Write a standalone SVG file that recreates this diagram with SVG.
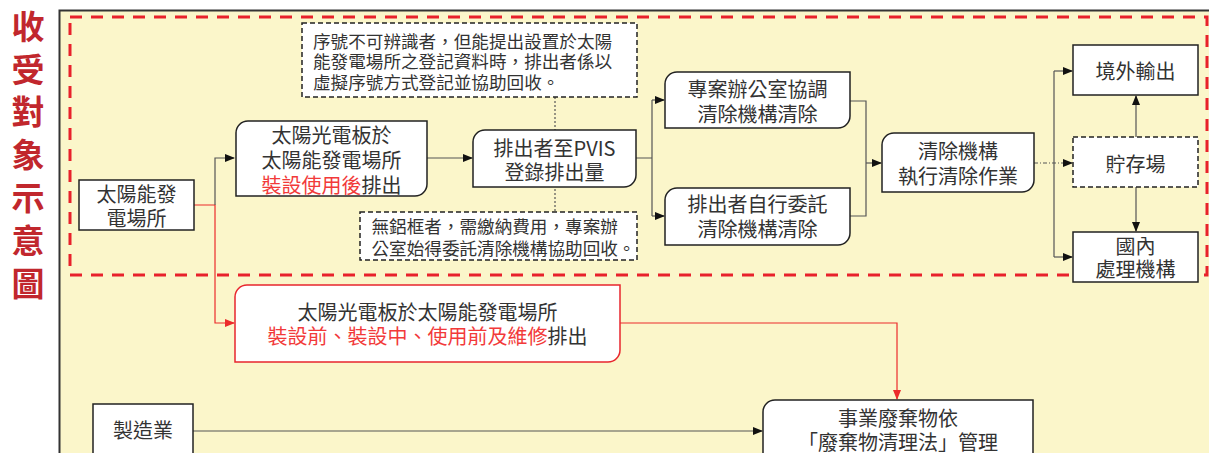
<svg xmlns="http://www.w3.org/2000/svg" width="1209" height="453" viewBox="0 0 1209 453">
<style>
.t{font-family:"Noto Sans CJK TC","Noto Sans CJK SC",sans-serif;font-size:20px;fill:#333;text-anchor:middle;dominant-baseline:central}
.n{font-family:"Noto Sans CJK TC","Noto Sans CJK SC",sans-serif;font-size:17.6px;fill:#333;dominant-baseline:central}
.title{font-family:"Noto Sans CJK TC","Noto Sans CJK SC",sans-serif;font-size:33px;font-weight:bold;fill:#c1272d;text-anchor:middle;dominant-baseline:central}
.r{fill:#f23a3a}
.box{fill:#fff;stroke:#222;stroke-width:1.5}
.dbox{fill:#fff;stroke:#222;stroke-width:1.5;stroke-dasharray:5 3}
.redbox{fill:#fff;stroke:#e8262e;stroke-width:1.5}
.ln{fill:none;stroke:#555;stroke-width:1.2}
.rl{fill:none;stroke:#ec2b2b;stroke-width:1.2}
</style>
<defs>
<marker id="ab" markerWidth="10" markerHeight="8" refX="9" refY="4" orient="auto" markerUnits="userSpaceOnUse"><path d="M0,0 L10,4 L0,8 Z" fill="#111"/></marker>
<marker id="ar" markerWidth="10" markerHeight="8" refX="9" refY="4" orient="auto" markerUnits="userSpaceOnUse"><path d="M0,0 L10,4 L0,8 Z" fill="#ec2b2b"/></marker>
</defs>
<rect width="1209" height="453" fill="#fff"/>
<g id="title">
<text class="title" x="28" y="25">收</text>
<text class="title" x="28" y="68">受</text>
<text class="title" x="28" y="110">對</text>
<text class="title" x="28" y="153">象</text>
<text class="title" x="28" y="196">示</text>
<text class="title" x="28" y="239">意</text>
<text class="title" x="28" y="282">圖</text>
</g>
<rect id="frame" x="59.5" y="10.5" width="1170" height="470" fill="#fbf6ca" stroke="#333" stroke-width="2"/>
<rect id="scope" x="70" y="17" width="1137" height="258" fill="none" stroke="#e8212b" stroke-width="3" stroke-dasharray="12 9"/>
<g id="connectors">
<path class="rl" d="M194,205 H215 V323 H234" marker-end="url(#ar)"/>
<path class="ln" d="M215,205 V158 H234" marker-end="url(#ab)"/>
<path class="ln" d="M427,158 H472" marker-end="url(#ab)"/>
<path class="ln" d="M636,158 H652 M652,100 V216"/>
<path class="ln" d="M652,100 H664" marker-end="url(#ab)"/>
<path class="ln" d="M652,216 H664" marker-end="url(#ab)"/>
<path class="ln" d="M850,101 H866 V216 H850"/>
<path class="ln" d="M866,163 H881" marker-end="url(#ab)"/>
<path class="ln" d="M1034,163 H1072" stroke-dasharray="4 2 1 2" marker-end="url(#ab)"/>
<path class="ln" d="M1054,71 V257"/>
<path class="ln" d="M1054,71 H1072" marker-end="url(#ab)"/>
<path class="ln" d="M1054,257 H1072" marker-end="url(#ab)"/>
<path class="ln" d="M1136,137 V96" marker-end="url(#ab)"/>
<path class="ln" d="M1136,187 V231" marker-end="url(#ab)"/>
<path class="ln" d="M555,97 V211" stroke-dasharray="2 2"/>
<path class="rl" d="M620,323 H897 V399" marker-end="url(#ar)"/>
<path class="ln" d="M193,431 H762" marker-end="url(#ab)"/>
</g>
<g id="plant">
<rect class="box" x="79" y="180" width="115" height="50"/>
<text class="t" x="136.5" y="193">太陽能發</text>
<text class="t" x="136.5" y="217">電場所</text>
</g>
<g id="after-install">
<path class="box" d="M248,121 H427 V184 A12,12 0 0 1 415,196 H236 V133 A12,12 0 0 1 248,121 Z"/>
<text class="t" x="331.5" y="134">太陽光電板於</text>
<text class="t" x="331.5" y="159">太陽能發電場所</text>
<text class="t" x="331.5" y="184"><tspan class="r">裝設使用後</tspan>排出</text>
</g>
<g id="note1">
<rect class="dbox" x="302" y="23" width="335" height="74"/>
<text class="n" x="313" y="40">序號不可辨識者，但能提出設置於太陽</text>
<text class="n" x="313" y="60.5">能發電場所之登記資料時，排出者係以</text>
<text class="n" x="313" y="81">虛擬序號方式登記並協助回收。</text>
</g>
<g id="pvis">
<path class="box" d="M485,130 H636 V175 A12,12 0 0 1 624,187 H473 V142 A12,12 0 0 1 485,130 Z"/>
<text class="t" x="554.5" y="147">排出者至PVIS</text>
<text class="t" x="554.5" y="171">登錄排出量</text>
</g>
<g id="note2">
<rect class="dbox" x="360" y="212" width="277" height="48"/>
<text class="n" x="371.5" y="225">無鋁框者，需繳納費用，專案辦</text>
<text class="n" x="371.5" y="247.5">公室始得委託清除機構協助回收。</text>
</g>
<g id="office">
<path class="box" d="M677,72 H850 V116 A12,12 0 0 1 838,128 H665 V84 A12,12 0 0 1 677,72 Z"/>
<text class="t" x="757.5" y="88.5">專案辦公室協調</text>
<text class="t" x="757.5" y="113.5">清除機構清除</text>
</g>
<g id="self">
<path class="box" d="M677,188 H850 V233 A12,12 0 0 1 838,245 H665 V200 A12,12 0 0 1 677,188 Z"/>
<text class="t" x="757.5" y="203.5">排出者自行委託</text>
<text class="t" x="757.5" y="228.5">清除機構清除</text>
</g>
<g id="clearing">
<path class="box" d="M894,133 H1034 V180 A12,12 0 0 1 1022,192 H882 V145 A12,12 0 0 1 894,133 Z"/>
<text class="t" x="958" y="150">清除機構</text>
<text class="t" x="958" y="175">執行清除作業</text>
</g>
<g id="export">
<rect class="box" x="1073" y="45" width="125" height="50"/>
<text class="t" x="1135.5" y="70">境外輸出</text>
</g>
<g id="storage">
<rect class="dbox" x="1073" y="137" width="125" height="50"/>
<text class="t" x="1135.5" y="163.5">貯存場</text>
</g>
<g id="domestic">
<rect class="box" x="1073" y="232" width="125" height="50"/>
<text class="t" x="1135.5" y="245">國內</text>
<text class="t" x="1135.5" y="268.5">處理機構</text>
</g>
<g id="before-install">
<path class="redbox" d="M247,285 H620 V350 A12,12 0 0 1 608,362 H235 V297 A12,12 0 0 1 247,285 Z"/>
<text class="t" x="427.5" y="311">太陽光電板於太陽能發電場所</text>
<text class="t" x="427.5" y="335"><tspan class="r">裝設前、裝設中、使用前及維修</tspan>排出</text>
</g>
<g id="manufacturing">
<rect class="box" x="93" y="404" width="100" height="70"/>
<text class="t" x="143" y="429">製造業</text>
</g>
<g id="waste-law">
<path class="box" d="M775,400 H1033 V470 H763 V412 A12,12 0 0 1 775,400 Z"/>
<text class="t" x="898" y="417">事業廢棄物依</text>
<text class="t" x="898" y="441">「廢棄物清理法」管理</text>
</g>
</svg>
